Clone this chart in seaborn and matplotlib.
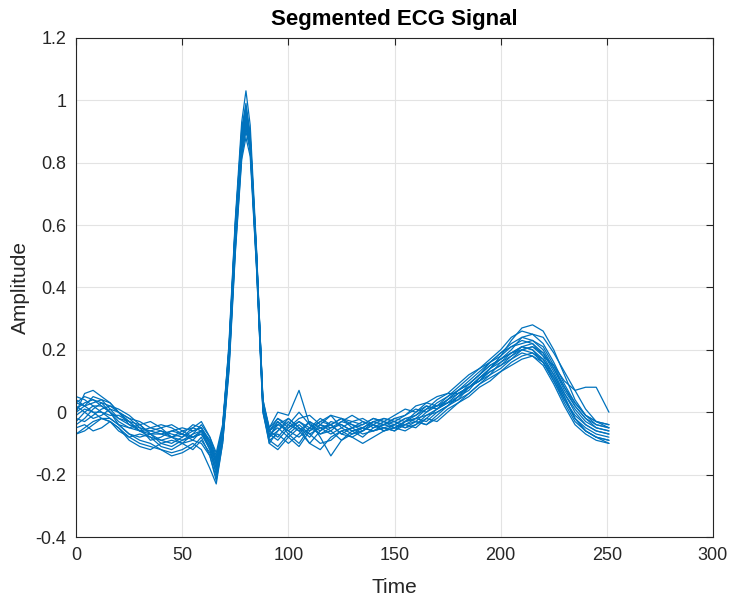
import numpy as np
import pandas as pd
import matplotlib
matplotlib.use("Agg")
import matplotlib.pyplot as plt
import seaborn as sns

# sample times (denser around the QRS complex)
time = [0, 4, 8, 12, 16, 20, 25, 30, 35, 40, 45, 50, 55, 59, 63,
        66, 69, 72, 75, 78, 80, 82, 85, 88, 91,
        95, 100, 105, 110, 115, 120, 125, 130, 135, 140, 145, 150, 155, 160,
        165, 170, 175, 180, 185, 190, 195, 200, 205, 210, 215, 220, 225, 230,
        235, 240, 245, 251]

# one list per segmented beat
beat_01 = [0.03, 0.05, 0.04, 0.02, 0.0, -0.02, -0.04, -0.05, -0.06, -0.07, -0.06, -0.05, -0.06, -0.05, -0.10,
           -0.16, -0.06, 0.22, 0.62, 0.93, 1.03, 0.92, 0.52, 0.03, -0.08,
           -0.04, -0.06, -0.03, -0.05, -0.07, -0.05, -0.04, -0.06, -0.05, -0.03, -0.04, -0.02, -0.03, 0.0,
           0.02, 0.01, 0.04, 0.06, 0.08, 0.10, 0.14, 0.18, 0.23, 0.27, 0.28, 0.26, 0.20, 0.12,
           0.04, -0.01, -0.03, -0.05]
beat_02 = [-0.07, -0.05, -0.03, -0.02, -0.03, -0.05, -0.08, -0.10, -0.11, -0.12, -0.13, -0.12, -0.10, -0.12, -0.18,
           -0.23, -0.10, 0.14, 0.52, 0.82, 0.90, 0.84, 0.46, 0.0, -0.10,
           -0.12, -0.08, -0.05, -0.10, -0.12, -0.08, -0.06, -0.08, -0.10, -0.08, -0.06, -0.05, -0.06, -0.04,
           -0.02, -0.03, 0.0, 0.03, 0.05, 0.08, 0.10, 0.13, 0.16, 0.18, 0.19, 0.17, 0.12, 0.05,
           -0.02, -0.06, -0.08, -0.10]
beat_03 = [0.0, 0.06, 0.07, 0.05, 0.03, 0.0, -0.02, -0.03, -0.05, -0.06, -0.08, -0.09, -0.07, -0.04, -0.08,
           -0.14, -0.05, 0.20, 0.58, 0.88, 0.97, 0.88, 0.50, 0.04, -0.05,
           0.0, -0.01, 0.07, -0.04, -0.06, -0.04, -0.02, -0.03, -0.04, -0.02, -0.03, -0.01, 0.01, 0.0,
           0.03, 0.05, 0.06, 0.09, 0.12, 0.14, 0.16, 0.19, 0.21, 0.23, 0.22, 0.18, 0.15, 0.10,
           0.07, 0.08, 0.08, 0.0]
beat_04 = [-0.02, -0.03, -0.01, 0.01, 0.02, 0.0, -0.03, -0.06, -0.08, -0.09, -0.08, -0.06, -0.05, -0.06, -0.11,
           -0.18, -0.07, 0.17, 0.56, 0.86, 0.94, 0.86, 0.49, 0.02, -0.08,
           -0.06, -0.02, -0.05, -0.08, -0.04, -0.01, -0.05, -0.07, -0.06, -0.04, -0.05, -0.06, -0.03, -0.02,
           -0.03, 0.0, 0.02, 0.05, 0.07, 0.11, 0.13, 0.15, 0.18, 0.21, 0.22, 0.19, 0.13, 0.06,
           0.0, -0.04, -0.06, -0.07]
beat_05 = [0.04, 0.02, 0.0, 0.0, -0.02, -0.04, -0.05, -0.04, -0.03, -0.05, -0.08, -0.10, -0.09, -0.06, -0.09,
           -0.15, -0.05, 0.19, 0.60, 0.89, 0.96, 0.87, 0.47, 0.01, -0.06,
           -0.03, -0.07, -0.10, -0.05, -0.02, -0.04, -0.07, -0.05, -0.03, -0.04, -0.06, -0.05, -0.04, -0.05,
           -0.02, 0.01, 0.03, 0.04, 0.08, 0.10, 0.12, 0.16, 0.19, 0.21, 0.20, 0.17, 0.11, 0.04,
           -0.02, -0.05, -0.07, -0.08]
beat_06 = [-0.04, -0.02, 0.01, 0.03, 0.02, 0.01, -0.01, -0.04, -0.07, -0.10, -0.11, -0.09, -0.08, -0.07, -0.12,
           -0.20, -0.09, 0.15, 0.53, 0.83, 0.91, 0.85, 0.50, 0.03, -0.09,
           -0.07, -0.10, -0.07, -0.03, -0.08, -0.14, -0.09, -0.06, -0.05, -0.06, -0.05, -0.04, -0.05, -0.03,
           -0.04, -0.01, 0.02, 0.05, 0.09, 0.12, 0.15, 0.17, 0.19, 0.21, 0.20, 0.16, 0.10, 0.03,
           -0.03, -0.06, -0.08, -0.09]
beat_07 = [0.01, 0.03, 0.04, 0.03, 0.0, -0.04, -0.07, -0.08, -0.07, -0.06, -0.07, -0.08, -0.06, -0.05, -0.10,
           -0.16, -0.06, 0.20, 0.60, 0.91, 0.99, 0.89, 0.51, 0.04, -0.06,
           -0.08, -0.04, 0.0, -0.04, -0.07, -0.06, -0.03, -0.01, -0.03, -0.05, -0.04, -0.02, -0.01, 0.01,
           0.0, 0.03, 0.05, 0.07, 0.09, 0.12, 0.15, 0.17, 0.20, 0.24, 0.25, 0.24, 0.19, 0.13,
           0.07, 0.01, -0.03, -0.04]
beat_08 = [-0.05, -0.04, -0.06, -0.05, -0.03, -0.05, -0.09, -0.11, -0.12, -0.10, -0.09, -0.10, -0.12, -0.09, -0.13,
           -0.19, -0.08, 0.16, 0.55, 0.84, 0.92, 0.84, 0.48, 0.02, -0.07,
           -0.05, -0.08, -0.11, -0.06, -0.04, -0.06, -0.09, -0.07, -0.05, -0.06, -0.04, -0.03, -0.05, -0.04,
           -0.01, 0.0, 0.02, 0.04, 0.06, 0.09, 0.12, 0.14, 0.17, 0.19, 0.18, 0.15, 0.09, 0.02,
           -0.04, -0.07, -0.09, -0.10]
beat_09 = [0.02, 0.0, -0.02, -0.01, 0.01, 0.0, -0.02, -0.05, -0.09, -0.08, -0.06, -0.07, -0.09, -0.10, -0.14,
           -0.21, -0.09, 0.15, 0.54, 0.85, 0.93, 0.86, 0.49, 0.01, -0.10,
           -0.06, -0.03, -0.06, -0.10, -0.06, -0.03, -0.04, -0.06, -0.08, -0.05, -0.03, -0.04, -0.02, -0.03,
           0.0, 0.02, 0.03, 0.06, 0.08, 0.11, 0.14, 0.17, 0.19, 0.20, 0.21, 0.18, 0.12, 0.06,
           0.01, -0.03, -0.05, -0.06]
beat_10 = [-0.03, 0.0, 0.02, 0.02, 0.0, -0.03, -0.05, -0.06, -0.05, -0.04, -0.05, -0.07, -0.08, -0.06, -0.10,
           -0.17, -0.07, 0.18, 0.57, 0.87, 0.95, 0.87, 0.50, 0.03, -0.06,
           -0.02, -0.05, -0.02, -0.01, -0.04, -0.05, -0.03, -0.04, -0.06, -0.04, -0.02, -0.03, -0.04, -0.02,
           0.01, 0.02, 0.04, 0.07, 0.10, 0.13, 0.16, 0.18, 0.21, 0.22, 0.23, 0.21, 0.15, 0.08,
           0.02, -0.02, -0.04, -0.05]
beat_11 = [0.0, 0.02, 0.05, 0.04, 0.01, -0.02, -0.03, -0.04, -0.07, -0.09, -0.10, -0.08, -0.05, -0.03, -0.08,
           -0.13, -0.04, 0.21, 0.61, 0.90, 0.98, 0.88, 0.50, 0.02, -0.07,
           -0.09, -0.05, -0.03, -0.06, -0.03, -0.01, -0.02, -0.05, -0.04, -0.02, -0.03, -0.05, -0.03, -0.01,
           0.01, 0.04, 0.06, 0.06, 0.08, 0.11, 0.14, 0.16, 0.18, 0.20, 0.19, 0.16, 0.10, 0.04,
           -0.01, -0.04, -0.06, -0.07]
beat_12 = [-0.07, -0.06, -0.04, -0.02, -0.02, -0.04, -0.07, -0.09, -0.10, -0.12, -0.14, -0.13, -0.11, -0.08, -0.14,
           -0.22, -0.10, 0.13, 0.51, 0.81, 0.88, 0.82, 0.46, 0.0, -0.09,
           -0.11, -0.07, -0.04, -0.07, -0.10, -0.09, -0.06, -0.05, -0.07, -0.06, -0.05, -0.06, -0.04, -0.03,
           -0.04, -0.02, 0.01, 0.03, 0.06, 0.09, 0.11, 0.13, 0.15, 0.17, 0.18, 0.16, 0.11, 0.05,
           -0.02, -0.06, -0.08, -0.09]
beat_13 = [0.03, 0.02, 0.03, 0.04, 0.03, 0.0, -0.04, -0.06, -0.06, -0.05, -0.04, -0.06, -0.08, -0.07, -0.11,
           -0.16, -0.06, 0.19, 0.59, 0.88, 0.95, 0.86, 0.48, 0.02, -0.06,
           -0.04, -0.02, -0.05, -0.07, -0.05, -0.07, -0.05, -0.03, -0.02, -0.04, -0.06, -0.04, -0.02, -0.01,
           0.02, 0.01, 0.04, 0.07, 0.09, 0.12, 0.16, 0.19, 0.22, 0.24, 0.23, 0.20, 0.14, 0.07,
           0.02, -0.02, -0.05, -0.06]
beat_14 = [-0.01, 0.01, 0.0, -0.02, -0.03, -0.06, -0.08, -0.07, -0.08, -0.11, -0.12, -0.10, -0.07, -0.06, -0.12,
           -0.18, -0.08, 0.16, 0.55, 0.85, 0.93, 0.85, 0.48, 0.01, -0.08,
           -0.03, -0.06, -0.08, -0.05, -0.03, -0.04, -0.07, -0.08, -0.06, -0.03, -0.04, -0.05, -0.03, -0.02,
           -0.01, 0.01, 0.03, 0.05, 0.08, 0.10, 0.13, 0.15, 0.17, 0.20, 0.21, 0.19, 0.14, 0.08,
           0.03, -0.01, -0.04, -0.05]
beat_15 = [0.05, 0.04, 0.02, 0.0, -0.01, -0.01, -0.03, -0.06, -0.07, -0.07, -0.08, -0.07, -0.04, -0.05, -0.09,
           -0.15, -0.05, 0.20, 0.59, 0.89, 0.97, 0.88, 0.51, 0.03, -0.05,
           -0.02, -0.04, -0.06, -0.03, -0.05, -0.04, -0.02, -0.04, -0.05, -0.03, -0.02, -0.03, -0.01, 0.02,
           0.03, 0.02, 0.05, 0.08, 0.11, 0.14, 0.17, 0.20, 0.24, 0.26, 0.25, 0.22, 0.16, 0.09,
           0.03, -0.01, -0.03, -0.04]

beats = [beat_01, beat_02, beat_03, beat_04, beat_05, beat_06, beat_07, beat_08,
         beat_09, beat_10, beat_11, beat_12, beat_13, beat_14, beat_15]

# long table for seaborn
rows = []
for i, b in enumerate(beats):
    for t, v in zip(time, b):
        rows.append((i, t, v))
df = pd.DataFrame(rows, columns=['beat', 'Time', 'Amplitude'])

sns.set_style("white")
plt.rcParams['font.family'] = ['Liberation Sans', 'DejaVu Sans']

fig = plt.figure(figsize=(7.32, 6.0), dpi=100)
ax = fig.add_axes([0.104, 0.105, 0.870, 0.832])

sns.lineplot(data=df, x='Time', y='Amplitude', units='beat', estimator=None,
             color='#0072BD', linewidth=0.9, ax=ax, legend=False)

ax.set_xlim(0, 300)
ax.set_ylim(-0.4, 1.2)
ax.set_xticks(np.arange(0, 301, 50))
ax.set_yticks(np.round(np.arange(-0.4, 1.21, 0.2), 1))
ax.yaxis.set_major_formatter(matplotlib.ticker.FormatStrFormatter('%g'))
ax.grid(True, color='#e3e3e3', linewidth=0.8)
ax.set_axisbelow(True)
for s in ax.spines.values():
    s.set_color('#262626')
    s.set_linewidth(0.8)
ax.tick_params(direction='in', length=5, width=0.8, color='#262626',
               labelsize=13, labelcolor='#262626', top=True, right=True, pad=7)
ax.set_xlabel('Time', fontsize=15, color='#262626', labelpad=10)
ax.set_ylabel('Amplitude', fontsize=15, color='#262626', labelpad=4)
ax.set_title('Segmented ECG Signal', fontsize=16, fontweight='bold', color='black', pad=9)

fig.savefig('out.png', dpi=100)
